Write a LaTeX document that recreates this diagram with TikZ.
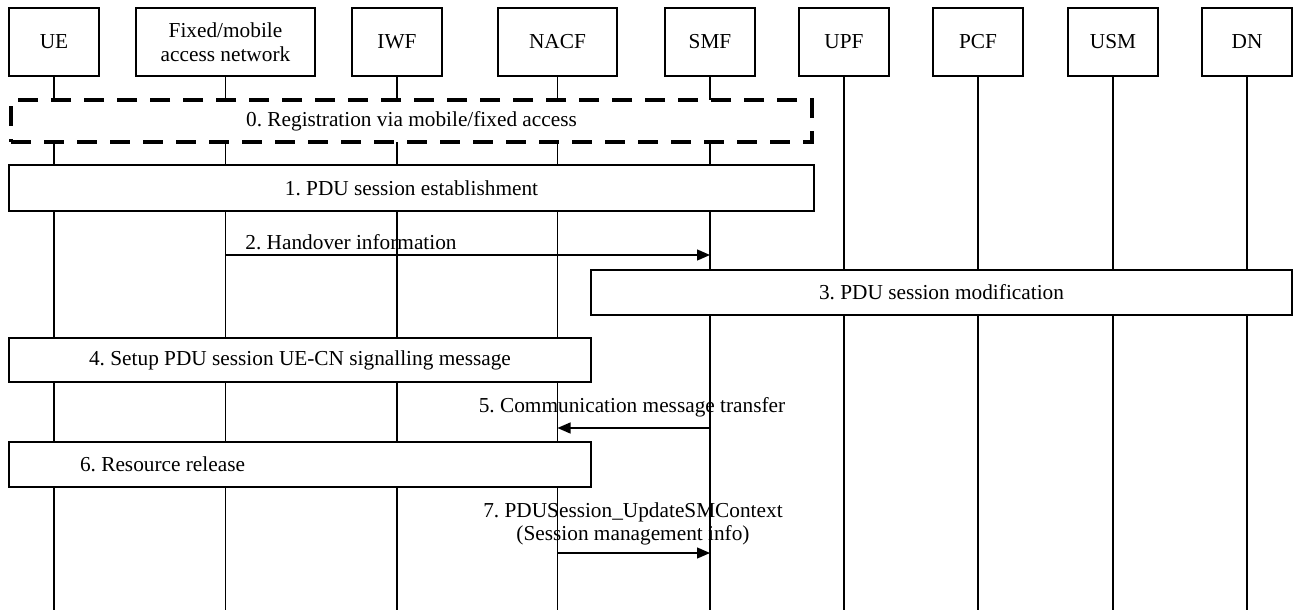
\documentclass[tikz,border=0pt]{standalone}
\usepackage{fontspec}
\setmainfont{Liberation Serif}
\usetikzlibrary{arrows.meta}
\frenchspacing
\begin{document}
\begin{tikzpicture}[x=1pt,y=-1pt,
  font=\fontsize{21.3}{23.5}\selectfont,
  entity/.style={draw, line width=1.3pt, fill=white, minimum height=68,
    inner sep=0pt, align=center},
  lifeline/.style={line width=1.3pt},
  stepbox/.style={draw, line width=1.3pt, fill=white, inner sep=0pt},
  regbox/.style={draw, line width=4pt, dash pattern=on 20pt off 13pt,
    fill=white, inner sep=0pt},
  msg/.style={line width=1.3pt, -{Triangle[length=13pt,width=11pt]}},
  msglabel/.style={inner sep=0pt, align=center}]
\useasboundingbox (0,0) rectangle (1294,610);

% participants
\node[entity, minimum width=90]  (ue)   at (54,42)    {UE};
\node[entity, minimum width=179] (fm)   at (225.5,42) {Fixed/mobile\\access network};
\node[entity, minimum width=90]  (iwf)  at (397,42)   {IWF};
\node[entity, minimum width=119] (nacf) at (557.5,42) {NACF};
\node[entity, minimum width=90]  (smf)  at (710,42)   {SMF};
\node[entity, minimum width=90]  (upf)  at (844,42)   {UPF};
\node[entity, minimum width=90]  (pcf)  at (978,42)   {PCF};
\node[entity, minimum width=90]  (usm)  at (1113,42)  {USM};
\node[entity, minimum width=90]  (dn)   at (1247,42)  {DN};

% lifelines
\foreach \n in {ue,fm,iwf,nacf,smf,upf,pcf,usm,dn}{
  \coordinate (\n-end) at (\n.south |- 0,610);
  \draw[lifeline] (\n.south) -- (\n-end);
}

% procedure boxes
\node[regbox, minimum width=801, minimum height=42] (reg) at (411.5,121)
  {0. Registration via mobile/fixed access};
\node[stepbox, minimum width=805, minimum height=46] (pdu) at (411.5,188)
  {1. PDU session establishment};
\node[stepbox, minimum width=701, minimum height=45] (mod) at (941.5,292.5)
  {3. PDU session modification};
\node[stepbox, minimum width=582, minimum height=44] (setup) at (300,360)
  {4. Setup PDU session UE-CN signalling message};
\node[stepbox, minimum width=582, minimum height=45] (rel) at (300,464.5)
  {\makebox[440pt][l]{6. Resource release}};

% messages
\coordinate (m2a) at (fm |- 0,255);
\coordinate (m2b) at (smf |- 0,255);
\draw[msg] (m2a) -- (m2b);
\node[msglabel] (l2) at (351,242) {2. Handover information};

\coordinate (m5a) at (smf |- 0,428);
\coordinate (m5b) at (nacf |- 0,428);
\draw[msg] (m5a) -- (m5b);
\node[msglabel] (l5) at (632,407) {5. Communication message transfer};

\coordinate (m7a) at (nacf |- 0,553);
\coordinate (m7b) at (smf |- 0,553);
\draw[msg] (m7a) -- (m7b);
\node[msglabel] (l7) at (633,524)
  {7. PDUSession\_UpdateSMContext\\(Session management info)};
\end{tikzpicture}
\end{document}
